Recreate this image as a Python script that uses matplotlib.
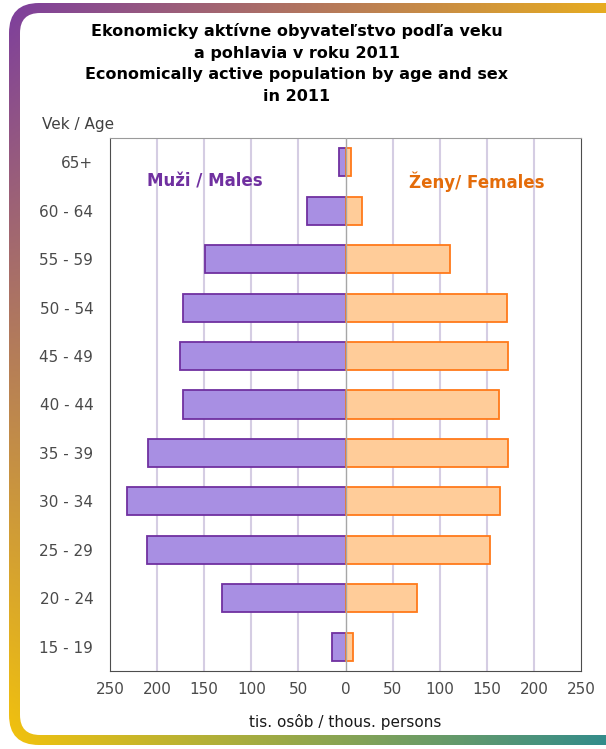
import numpy as np
import matplotlib
matplotlib.use("Agg")
from matplotlib import pyplot as plt
from matplotlib.patches import FancyBboxPatch
from matplotlib.path import Path

# vekove skupiny / age groups (zdola nahor)
vek = ['15 - 19', '20 - 24', '25 - 29', '30 - 34', '35 - 39', '40 - 44',
       '45 - 49', '50 - 54', '55 - 59', '60 - 64', '65+']
muzi = [14, 131, 211, 232, 210, 172, 176, 172, 149, 41, 7]
zeny = [8, 76, 153, 164, 173, 163, 172, 171, 111, 17, 6]
xticks = [-250, -200, -150, -100, -50, 0, 50, 100, 150, 200, 250]
xtick_labels = [str(abs(v)) for v in xticks]

plt.rcParams['font.family'] = ['DejaVu Sans']

fig = plt.figure(figsize=(6.06, 7.49), dpi=100)
W, H = 606, 749

# ramik s farebnym prechodom
bg = fig.add_axes([0, 0, 1, 1])
bg.set_xlim(0, W)
bg.set_ylim(H, 0)
bg.axis('off')
tl = np.array([123, 60, 160]) / 255
tr = np.array([232, 172, 32]) / 255
bl = np.array([246, 196, 10]) / 255
br = np.array([50, 140, 140]) / 255
u = np.linspace(0, 1, 200)[None, :, None]
v = np.linspace(0, 1, 250)[:, None, None]
grad = (1 - v) * ((1 - u) * tl + u * tr) + v * ((1 - u) * bl + u * br)
im = bg.imshow(grad, extent=[0, W, H, 0], aspect='auto', zorder=0)

outer = FancyBboxPatch((9, 3), W + 40, 742, boxstyle='round,pad=0,rounding_size=30')
inner = FancyBboxPatch((20, 13), W + 40, 722, boxstyle='round,pad=0,rounding_size=20')
po = outer.get_path().transformed(outer.get_patch_transform())
pi = inner.get_path().transformed(inner.get_patch_transform())
ring = Path(np.concatenate([po.vertices, pi.vertices[::-1]]),
            np.concatenate([po.codes, pi.codes]))
im.set_clip_path(ring, bg.transData)

ax = fig.add_axes([110 / W, 1 - 671 / H, 471 / W, 533 / H])
y = np.arange(len(vek))
ax.barh(y, [-m for m in muzi], height=0.58, color='#a88fe3', edgecolor='#7030a0',
        linewidth=1.3, zorder=3)
ax.barh(y, zeny, height=0.58, color='#ffcc99', edgecolor='#ff7a1a',
        linewidth=1.3, zorder=3)

ax.set_xlim(-250, 250)
ax.set_ylim(-0.5, len(vek) - 0.5)
ax.set_xticks(xticks)
ax.set_xticklabels(xtick_labels)
ax.set_yticks(y)
ax.set_yticklabels(vek)
ax.tick_params(axis='both', length=0, labelsize=11, labelcolor='#4a4a4a')
ax.tick_params(axis='y', pad=12)
ax.tick_params(axis='x', pad=8)
for g in xticks[1:-1]:
    if g != 0:
        ax.axvline(g, color='#d5cde3', linewidth=1.5, zorder=1)
ax.axvline(0, color='#a6a6a6', linewidth=1, zorder=4)
for s in ['left', 'right', 'bottom']:
    ax.spines[s].set_color('#4d4d4d')
ax.spines['top'].set_color('#9a9a9a')

ax.set_xlabel('tis. osôb / thous. persons', fontsize=11, color='#1a1a1a', labelpad=12)

fig.text(297 / W, 1 - 23 / H,
         'Ekonomicky aktívne obyvateľstvo podľa veku\na pohlavia v roku 2011\n'
         'Economically active population by age and sex\nin 2011',
         ha='center', va='top', fontsize=11.5, fontweight='bold', linespacing=1.55)
fig.text(42 / W, 1 - 124 / H, 'Vek / Age', ha='left', va='center', fontsize=11,
         color='#404040')
ax.text(-149, 9.6, 'Muži / Males', ha='center', va='center', fontsize=12,
        fontweight='bold', color='#7030a0')
ax.text(139, 9.6, 'Ženy/ Females', ha='center', va='center', fontsize=12,
        fontweight='bold', color='#e46c0a')

fig.savefig('out.png', dpi=100)
